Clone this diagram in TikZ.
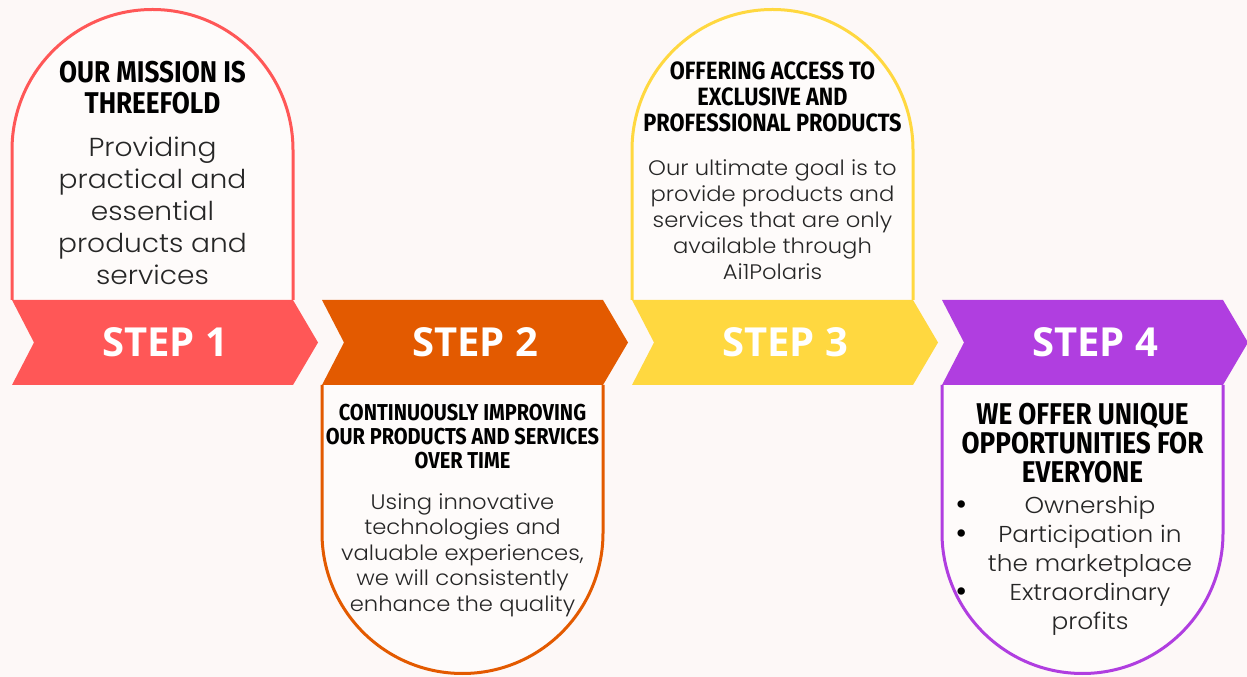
\documentclass[tikz,border=0pt]{standalone}
\usepackage{fontspec}
\usepackage{tikz}
\setmainfont{Poppins}
\newfontfamily\headfont[FakeStretch=0.87]{Fira Sans}
\newfontfamily\stepfont{Open Sans}
\IfFontExistsTF{Poppins Light}{\newfontfamily\bodyfont[FakeStretch=1.08]{Poppins Light}}{\newfontfamily\bodyfont[FakeStretch=1.08]{Poppins}}

\definecolor{bgcol}{HTML}{FDF8F7}
\definecolor{stepone}{HTML}{FF5757}
\definecolor{steptwo}{HTML}{E35A00}
\definecolor{stepthree}{HTML}{FFD840}
\definecolor{stepfour}{HTML}{B03EE0}

\tikzset{
  archbox/.style={line width=3pt, fill=white!40!bgcol},
  steplabel/.style={text=white, font=\stepfont\bfseries\fontsize{40}{42}\selectfont},
  headline/.style 2 args={align=center, inner sep=0pt, font=\headfont\bfseries\fontsize{#1}{#2}\selectfont},
  bodytext/.style 2 args={align=center, inner sep=0pt, text=black!85, font=\bodyfont\fontsize{#1}{#2}\selectfont},
  dotmark/.style={inner sep=0pt, font=\fontsize{30}{30}\selectfont}
}

\begin{document}
\begin{tikzpicture}[x=1pt,y=1pt]
  % Background
  \fill[bgcol] (0,0) rectangle (1247,677);
  \useasboundingbox (0,0) rectangle (1247,677);

  % Step 1
  \draw[archbox, draw=stepone] (12,377) -- (12,527) arc[start angle=180, end angle=0, radius=140.5] -- (293,377);
  \fill[stepone] (12,377) -- (293,377) -- (318,334.5) -- (293,292) -- (12,292) -- (34,334.5) -- cycle;
  \node[steplabel] (step1) at (165,334.5) {STEP 1};
  \node[headline={30}{31}] (head1) at (152.5,589) {OUR MISSION IS\\THREEFOLD};
  \node[bodytext={26}{32}] (body1) at (152.5,466) {Providing\\practical and\\essential\\products and\\services};

  % Step 2
  \draw[archbox, draw=steptwo] (322,292) -- (322,144) arc[start angle=180, end angle=360, radius=140.5] -- (603,292);
  \fill[steptwo] (322,377) -- (603,377) -- (628,334.5) -- (603,292) -- (322,292) -- (344,334.5) -- cycle;
  \node[steplabel] (step2) at (475,334.5) {STEP 2};
  \node[headline={23}{24}] (head2) at (462.5,240) {CONTINUOUSLY IMPROVING\\OUR PRODUCTS AND SERVICES\\OVER TIME};
  \node[bodytext={21}{25.5}] (body2) at (462.5,122) {Using innovative\\technologies and\\valuable experiences,\\we will consistently\\enhance the quality};

  % Step 3
  \draw[archbox, draw=stepthree] (632,377) -- (632,527) arc[start angle=180, end angle=0, radius=140.5] -- (913,377);
  \fill[stepthree] (632,377) -- (913,377) -- (938,334.5) -- (913,292) -- (632,292) -- (654,334.5) -- cycle;
  \node[steplabel] (step3) at (785,334.5) {STEP 3};
  \node[headline={25}{26}] (head3) at (772.5,580) {OFFERING ACCESS TO\\EXCLUSIVE AND\\PROFESSIONAL PRODUCTS};
  \node[bodytext={21}{26}] (body3) at (772.5,457) {Our ultimate goal is to\\provide products and\\services that are only\\available through\\Ai1Polaris};

  % Step 4
  \draw[archbox, draw=stepfour] (942,292) -- (942,144) arc[start angle=180, end angle=360, radius=140.5] -- (1223,292);
  \fill[stepfour] (942,377) -- (1223,377) -- (1248,334.5) -- (1223,292) -- (942,292) -- (964,334.5) -- cycle;
  \node[steplabel] (step4) at (1095,334.5) {STEP 4};
  \node[headline={30}{29}] (head4) at (1082.5,234) {WE OFFER UNIQUE\\OPPORTUNITIES FOR\\EVERYONE};
  \node[bodytext={23}{29}] (body4) at (1090,111) {Ownership\\Participation in\\the marketplace\\Extraordinary\\profits};
  % Bullets
  \node[dotmark] (dot1) at (962,169) {•};
  \node[dotmark] (dot2) at (962,140) {•};
  \node[dotmark] (dot3) at (962,82) {•};
\end{tikzpicture}
\end{document}
